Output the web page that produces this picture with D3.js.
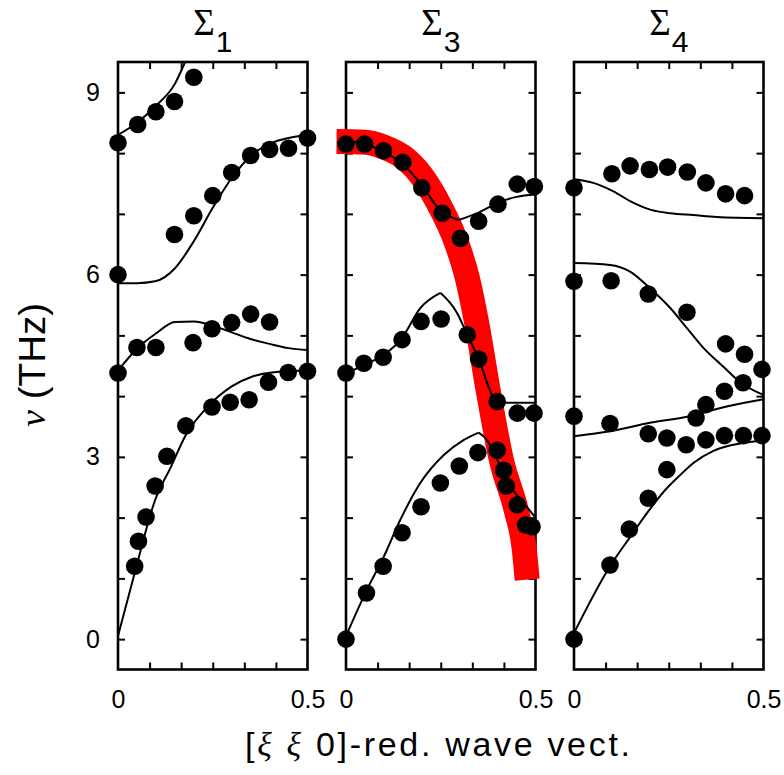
<!DOCTYPE html>
<html>
<head>
<meta charset="utf-8">
<script src="https://cdn.jsdelivr.net/npm/d3@7"></script>
<style>
  html, body { margin: 0; padding: 0; background: #fff; }
  svg { display: block; }
</style>
</head>
<body>
<svg id="chart" width="784" height="775"></svg>
<script>
// Phonon dispersion along [ξ ξ 0]: three symmetry panels Σ1, Σ3, Σ4.
// Each curve is a list of [ξ, ν (THz)] pairs; dots are measured frequencies.

const panelTitles = ["1", "3", "4"];          // Σ subscripts
const yTickValues = [0, 1, 2, 3, 4, 5, 6, 7, 8, 9];
const yTickLabels = [0, 3, 6, 9];
const xTickValues = [1/12, 2/12, 3/12, 4/12, 5/12];
const xTickLabels = [0, 0.5];

// Σ1
const sigma1Curves = [
  [[0, 8.30], [0.05, 8.50], [0.10, 8.78], [0.15, 9.14], [0.177, 9.5]],
  [[0, 5.86], [0.05, 5.86], [0.098, 5.89], [0.151, 6.11], [0.2, 6.55], [0.25, 7.10],
   [0.30, 7.59], [0.353, 7.97], [0.406, 8.17], [0.45, 8.25], [0.5, 8.30]],
  [[0, 4.42], [0.05, 4.78], [0.10, 5.03], [0.15, 5.22], [0.2, 5.23], [0.25, 5.16],
   [0.30, 5.05], [0.35, 4.94], [0.40, 4.86], [0.45, 4.79], [0.5, 4.76]],
  [[0, 0.05], [0.044, 1.09], [0.098, 2.29], [0.14, 2.84], [0.179, 3.36], [0.23, 3.78],
   [0.30, 4.16], [0.353, 4.32], [0.406, 4.39], [0.5, 4.42]]
];
const sigma1Dots = [
  [0, 8.17], [0.052, 8.47], [0.10, 8.68], [0.149, 8.85], [0.20, 9.25],
  [0, 6.0], [0.149, 6.66], [0.20, 6.97], [0.25, 7.30], [0.30, 7.68], [0.35, 7.96],
  [0.40, 8.06], [0.45, 8.08], [0.5, 8.25],
  [0, 4.38], [0.05, 4.80], [0.10, 4.80], [0.198, 4.88], [0.248, 5.11], [0.30, 5.21],
  [0.35, 5.35], [0.40, 5.22],
  [0.044, 1.20], [0.054, 1.61], [0.074, 2.01], [0.098, 2.52], [0.129, 3.01], [0.179, 3.51],
  [0.248, 3.82], [0.296, 3.90], [0.346, 3.94], [0.397, 4.23], [0.449, 4.39], [0.5, 4.41]
];

// Σ3
const sigma3Curves = [
  [[0, 8.20], [0.05, 8.15], [0.10, 8.02], [0.15, 7.82], [0.2, 7.47], [0.25, 7.05], [0.297, 6.90]],
  [[0.297, 6.90], [0.35, 7.02], [0.40, 7.18], [0.45, 7.28], [0.5, 7.32]],
  [[0, 4.38], [0.05, 4.52], [0.10, 4.68], [0.148, 4.96], [0.196, 5.45], [0.249, 5.70]],
  [[0.249, 5.70], [0.293, 5.37], [0.32, 5.01], [0.35, 4.61], [0.39, 3.97], [0.41, 3.89], [0.5, 3.89]],
  [[0, 0.05], [0.055, 0.81], [0.1, 1.36], [0.143, 1.96], [0.196, 2.57], [0.258, 3.03],
   [0.311, 3.28], [0.35, 3.40]],
  [[0.35, 3.40], [0.372, 3.28], [0.399, 2.95], [0.434, 2.51], [0.469, 2.24], [0.5, 2.0]]
];
const sigma3Dots = [
  [0, 8.15], [0.049, 8.15], [0.099, 8.04], [0.15, 7.85], [0.20, 7.43], [0.254, 7.01], [0.302, 6.60],
  [0.35, 6.88], [0.401, 7.16], [0.452, 7.49], [0.497, 7.45],
  [0, 4.38], [0.047, 4.54], [0.098, 4.64], [0.148, 4.93], [0.198, 5.23], [0.251, 5.27],
  [0.32, 5.01], [0.35, 4.61], [0.399, 3.91], [0.452, 3.72], [0.496, 3.72],
  [0, 0], [0.054, 0.76], [0.098, 1.20], [0.148, 1.75], [0.198, 2.18], [0.249, 2.57],
  [0.299, 2.85], [0.348, 3.07],
  [0.399, 3.11], [0.416, 2.78], [0.423, 2.52], [0.452, 2.21], [0.474, 1.88], [0.491, 1.85]
];
// highlighted soft branch in Σ3
const sigma3Highlight = [
  [-0.025, 8.19], [0.05, 8.18], [0.10, 8.10], [0.15, 7.94], [0.20, 7.62], [0.25, 7.10],
  [0.29, 6.55], [0.32, 5.95], [0.345, 5.2], [0.375, 4.1], [0.41, 2.95], [0.45, 2.1],
  [0.47, 1.5], [0.478, 0.98]
];

// Σ4
const sigma4Curves = [
  [[0, 7.57], [0.051, 7.51], [0.104, 7.37], [0.148, 7.21], [0.201, 7.07], [0.254, 7.01],
   [0.315, 6.98], [0.377, 6.95], [0.5, 6.93]],
  [[0, 6.19], [0.095, 6.16], [0.148, 6.05], [0.2, 5.78], [0.254, 5.45], [0.298, 5.12],
   [0.342, 4.79], [0.395, 4.48], [0.44, 4.22], [0.5, 4.02]],
  [[0, 3.34], [0.095, 3.42], [0.2, 3.56], [0.306, 3.67], [0.403, 3.83], [0.5, 3.95]],
  [[0, 0.1], [0.095, 1.2], [0.148, 1.68], [0.192, 2.07], [0.24, 2.45], [0.28, 2.70],
   [0.315, 2.90], [0.368, 3.10], [0.438, 3.22], [0.5, 3.27]]
];
const sigma4Dots = [
  [0, 7.43], [0.10, 7.66], [0.148, 7.79], [0.199, 7.73], [0.247, 7.77], [0.299, 7.69],
  [0.348, 7.51], [0.40, 7.33], [0.45, 7.30],
  [0, 5.89], [0.098, 5.90], [0.196, 5.68], [0.298, 5.38], [0.40, 4.86], [0.45, 4.69], [0.496, 4.44],
  [0.446, 4.22], [0.397, 4.08], [0.348, 3.86], [0.322, 3.64],
  [0, 3.67], [0.095, 3.55], [0.196, 3.38], [0.245, 3.31], [0.296, 3.20], [0.348, 3.28],
  [0.397, 3.35], [0.447, 3.35], [0.496, 3.35],
  [0, 0], [0.095, 1.22], [0.146, 1.81], [0.196, 2.32], [0.245, 2.79]
];

const panels = [
  { sub: panelTitles[0], curves: sigma1Curves, dots: sigma1Dots, highlight: null },
  { sub: panelTitles[1], curves: sigma3Curves, dots: sigma3Dots, highlight: sigma3Highlight },
  { sub: panelTitles[2], curves: sigma4Curves, dots: sigma4Dots, highlight: null }
];

// layout
const panelLefts = [118, 346, 574];
const panelWidth = 189.5;
const plotTop = 62, plotBottom = 669.5;
const tickLen = 7;

const svg = d3.select("#chart");
const y = d3.scaleLinear().domain([-0.5, 9.5]).range([plotBottom, plotTop]);

panels.forEach((p, i) => {
  const left = panelLefts[i];
  const x = d3.scaleLinear().domain([0, 0.5]).range([left, left + panelWidth]);
  const g = svg.append("g");

  // title Σ with subscript
  const title = g.append("text")
    .attr("x", left + panelWidth / 2)
    .attr("y", 35)
    .attr("text-anchor", "middle");
  title.append("tspan")
    .attr("font-family", "Liberation Serif, serif")
    .attr("font-size", 37)
    .text("Σ");
  title.append("tspan")
    .attr("font-family", "Liberation Sans, Arial, sans-serif")
    .attr("font-size", 30)
    .attr("dy", 17)
    .attr("dx", 1)
    .text(p.sub);

  // inward ticks on all four sides
  const tickFmt = () => "";
  g.append("g").attr("transform", `translate(${left},0)`)
    .call(d3.axisLeft(y).tickValues(yTickValues).tickSize(-tickLen).tickFormat(tickFmt));
  g.append("g").attr("transform", `translate(${left + panelWidth},0)`)
    .call(d3.axisRight(y).tickValues(yTickValues).tickSize(-tickLen).tickFormat(tickFmt));
  g.append("g").attr("transform", `translate(0,${plotBottom})`)
    .call(d3.axisBottom(x).tickValues(xTickValues).tickSize(-tickLen).tickFormat(tickFmt));
  g.append("g").attr("transform", `translate(0,${plotTop})`)
    .call(d3.axisTop(x).tickValues(xTickValues).tickSize(-tickLen).tickFormat(tickFmt));
  g.selectAll(".domain").remove();
  g.selectAll(".tick line").attr("stroke", "#000").attr("stroke-width", 2);

  // x tick labels 0 and 0.5
  const xl = g.append("g").attr("transform", `translate(0,${plotBottom})`)
    .call(d3.axisBottom(x).tickValues(xTickLabels).tickSize(0).tickPadding(21)
      .tickFormat(d => d === 0 ? "0" : "0.5"));
  xl.select(".domain").remove();
  xl.selectAll("text")
    .attr("font-family", "Liberation Sans, Arial, sans-serif")
    .attr("font-size", 25)
    .attr("fill", "#000");

  // frame
  g.append("rect")
    .attr("x", left).attr("y", plotTop)
    .attr("width", panelWidth).attr("height", plotBottom - plotTop)
    .attr("fill", "none").attr("stroke", "#000").attr("stroke-width", 2.6);

  // highlighted branch
  if (p.highlight) {
    g.append("path")
      .datum(p.highlight)
      .attr("d", d3.line().x(d => x(d[0])).y(d => y(d[1])).curve(d3.curveMonotoneX))
      .attr("fill", "none")
      .attr("stroke", "#ff0000")
      .attr("stroke-width", 25)
      .attr("stroke-linecap", "butt")
      .attr("stroke-linejoin", "round");
  }

  // calculated curves
  const line = d3.line().x(d => x(d[0])).y(d => y(d[1])).curve(d3.curveMonotoneX);
  g.selectAll("path.curve")
    .data(p.curves)
    .join("path")
    .attr("class", "curve")
    .attr("d", line)
    .attr("fill", "none")
    .attr("stroke", "#000")
    .attr("stroke-width", 2);

  // measured points
  g.selectAll("circle")
    .data(p.dots)
    .join("circle")
    .attr("cx", d => x(d[0]))
    .attr("cy", d => y(d[1]))
    .attr("r", 8.8)
    .attr("fill", "#000");
});

// y tick labels on the first panel
const yl = svg.append("g").attr("transform", `translate(${panelLefts[0]},0)`)
  .call(d3.axisLeft(y).tickValues(yTickLabels).tickSize(0).tickPadding(18).tickFormat(d3.format("d")));
yl.select(".domain").remove();
yl.selectAll("text")
  .attr("font-family", "Liberation Sans, Arial, sans-serif")
  .attr("font-size", 25)
  .attr("text-anchor", "middle")
  .attr("dx", -7)
  .attr("fill", "#000");

// y axis title
const yt = svg.append("text")
  .attr("transform", "translate(45,365) rotate(-90)")
  .attr("text-anchor", "middle")
  .attr("font-family", "Liberation Sans, Arial, sans-serif")
  .attr("font-size", 36)
  .attr("textLength", 124)
  .attr("lengthAdjust", "spacingAndGlyphs");
yt.append("tspan").attr("font-family", "Liberation Serif, serif").attr("font-style", "italic").text("ν");
yt.append("tspan").text(" (THz)");

// x axis title
const xt = svg.append("text")
  .attr("x", 437.5)
  .attr("y", 756)
  .attr("text-anchor", "middle")
  .attr("font-family", "Liberation Sans, Arial, sans-serif")
  .attr("font-size", 34)
  .attr("textLength", 385)
  .attr("lengthAdjust", "spacing");
xt.append("tspan").text("[");
xt.append("tspan").attr("font-family", "Liberation Serif, serif").attr("font-style", "italic").text("ξ");
xt.append("tspan").text("  ");
xt.append("tspan").attr("font-family", "Liberation Serif, serif").attr("font-style", "italic").text("ξ");
xt.append("tspan").text("  0]-red.  wave  vect.");
</script>
</body>
</html>
